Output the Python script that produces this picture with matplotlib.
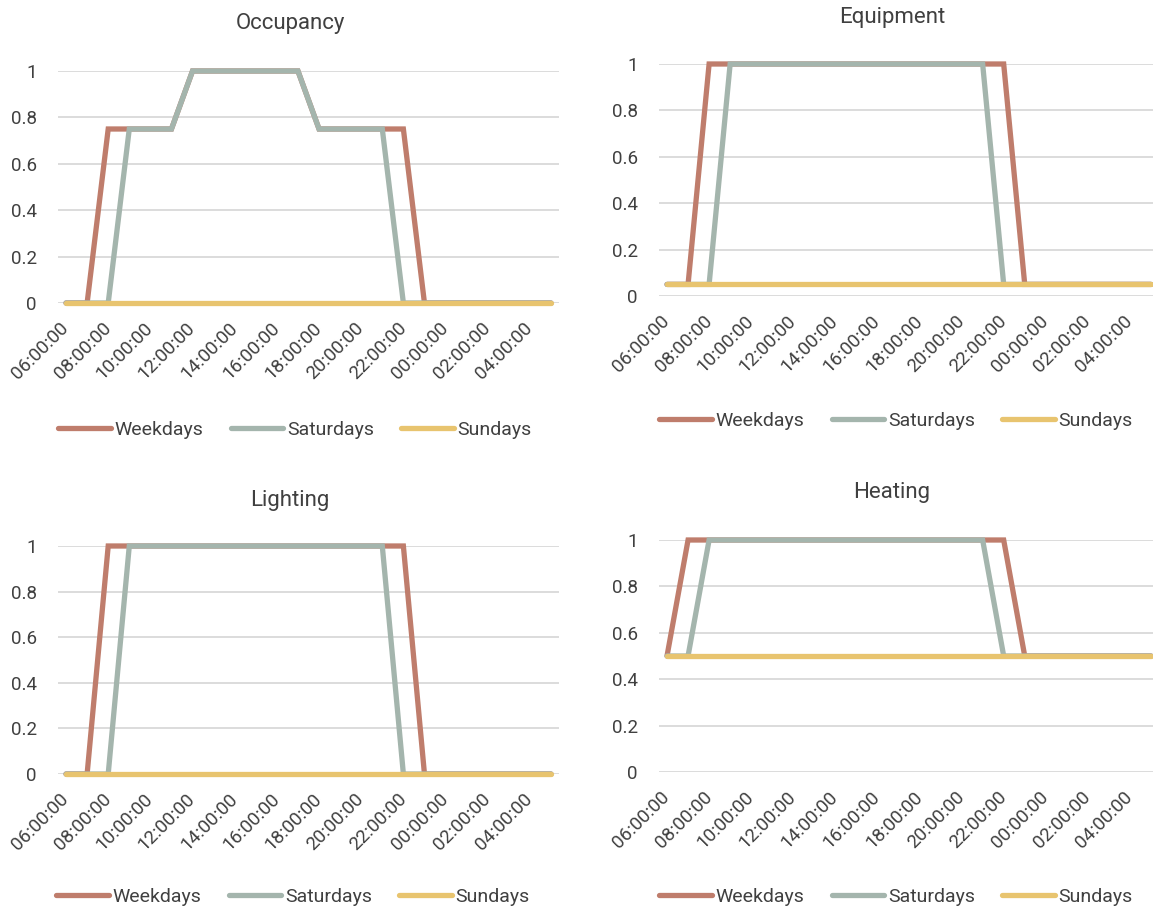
import matplotlib.pyplot as plt

plt.rcParams['font.family'] = ['Roboto', 'DejaVu Sans']

hours = ['06:00:00', '07:00:00', '08:00:00', '09:00:00', '10:00:00', '11:00:00',
         '12:00:00', '13:00:00', '14:00:00', '15:00:00', '16:00:00', '17:00:00',
         '18:00:00', '19:00:00', '20:00:00', '21:00:00', '22:00:00', '23:00:00',
         '00:00:00', '01:00:00', '02:00:00', '03:00:00', '04:00:00', '05:00:00']

occ_weekdays = [0, 0, 0.75, 0.75, 0.75, 0.75, 1, 1, 1, 1, 1, 1,
                0.75, 0.75, 0.75, 0.75, 0.75, 0, 0, 0, 0, 0, 0, 0]
occ_saturdays = [0, 0, 0, 0.75, 0.75, 0.75, 1, 1, 1, 1, 1, 1,
                 0.75, 0.75, 0.75, 0.75, 0, 0, 0, 0, 0, 0, 0, 0]
occ_sundays = [0] * 24

equ_weekdays = [0.05, 0.05, 1, 1, 1, 1, 1, 1, 1, 1, 1, 1,
                1, 1, 1, 1, 1, 0.05, 0.05, 0.05, 0.05, 0.05, 0.05, 0.05]
equ_saturdays = [0.05, 0.05, 0.05, 1, 1, 1, 1, 1, 1, 1, 1, 1,
                 1, 1, 1, 1, 0.05, 0.05, 0.05, 0.05, 0.05, 0.05, 0.05, 0.05]
equ_sundays = [0.05] * 24

lig_weekdays = [0, 0, 1, 1, 1, 1, 1, 1, 1, 1, 1, 1,
                1, 1, 1, 1, 1, 0, 0, 0, 0, 0, 0, 0]
lig_saturdays = [0, 0, 0, 1, 1, 1, 1, 1, 1, 1, 1, 1,
                 1, 1, 1, 1, 0, 0, 0, 0, 0, 0, 0, 0]
lig_sundays = [0] * 24

hea_weekdays = [0.5, 1, 1, 1, 1, 1, 1, 1, 1, 1, 1, 1,
                1, 1, 1, 1, 1, 0.5, 0.5, 0.5, 0.5, 0.5, 0.5, 0.5]
hea_saturdays = [0.5, 0.5, 1, 1, 1, 1, 1, 1, 1, 1, 1, 1,
                 1, 1, 1, 1, 0.5, 0.5, 0.5, 0.5, 0.5, 0.5, 0.5, 0.5]
hea_sundays = [0.5] * 24

series_names = ['Weekdays', 'Saturdays', 'Sundays']
colors = ['#bf7d6c', '#a4b5ad', '#e8c46f']
TXT = '#404040'
GRID = '#d9d9d9'
W, H = 1153, 910

fig = plt.figure(figsize=(W / 100, H / 100), dpi=100)

# title, (left px, right px, y0 px, y1 px), title pos, legend pos
panels = [
    ('Occupancy', (occ_weekdays, occ_saturdays, occ_sundays), (57.6, 559.4, 303, 71), (290, 24), (295, 430)),
    ('Equipment', (equ_weekdays, equ_saturdays, equ_sundays), (658.6, 1159.4, 296, 64), (892, 17), (896, 421)),
    ('Lighting', (lig_weekdays, lig_saturdays, lig_sundays), (57.6, 559.4, 774, 546), (290, 500), (293, 897)),
    ('Heating', (hea_weekdays, hea_saturdays, hea_sundays), (658.6, 1159.4, 772, 540), (892, 493), (896, 897)),
]

x = list(range(len(hours)))
for title, data, (l, r, y0, y1), tpos, lpos in panels:
    ax = fig.add_axes([l / W, 1 - y0 / H, (r - l) / W, (y0 - y1) / H])
    for vals, name, c in zip(data, series_names, colors):
        ax.plot(x, vals, color=c, lw=3.8, label=name, clip_on=False,
                solid_capstyle='round', solid_joinstyle='miter')
    ax.set_xlim(-0.4, 23.4)
    ax.set_ylim(0, 1)
    ax.set_yticks([0, 0.2, 0.4, 0.6, 0.8, 1])
    ax.set_yticklabels(['0', '0.2', '0.4', '0.6', '0.8', '1'])
    ax.set_xticks(x[::2])
    ax.set_xticklabels(hours[::2], rotation=45, ha='right', rotation_mode='anchor')
    ax.tick_params(axis='y', length=0, pad=15, labelsize=13.5, labelcolor=TXT)
    ax.tick_params(axis='x', length=0, pad=16, labelsize=13.5, labelcolor=TXT)
    for lab in ax.get_xticklabels():
        lab.set_va('center')
    ax.grid(axis='y', color=GRID, lw=1.3)
    ax.set_axisbelow(True)
    for s in ax.spines.values():
        s.set_visible(False)
    fig.text(tpos[0] / W, 1 - tpos[1] / H, title, ha='center', va='center',
             fontsize=16, color=TXT)
    ax.legend(loc='center', bbox_to_anchor=(lpos[0] / W, 1 - lpos[1] / H),
              bbox_transform=fig.transFigure, ncol=3, frameon=False, fontsize=14,
              handlelength=2.7, handletextpad=0.2, columnspacing=1.4, labelcolor=TXT)

fig.savefig('out.png', dpi=100)
